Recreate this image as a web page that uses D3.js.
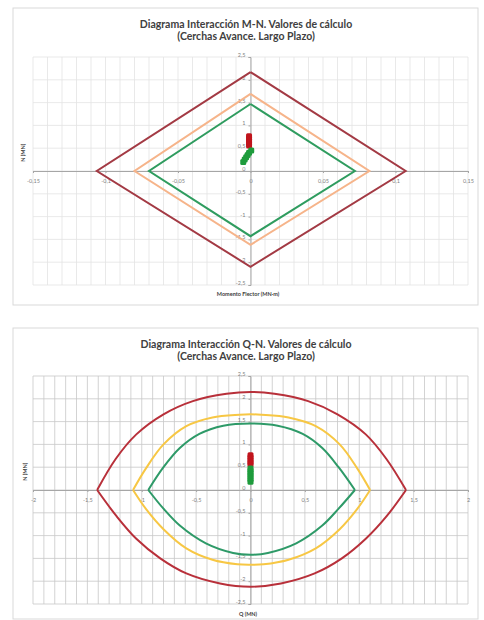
<!DOCTYPE html>
<html>
<head>
<meta charset="utf-8">
<script src="https://cdn.jsdelivr.net/npm/d3@7"></script>
<style>
  body { margin: 0; background: #fff; }
  text { font-family: Lato, "Open Sans", sans-serif; }
</style>
</head>
<body>
<div id="chart"></div>
<script>
// ---- data: M-N diagram (Momento flector MN·m, axil MN)
const mnTitle = ["Diagrama Interacción M-N. Valores de cálculo", "(Cerchas Avance. Largo Plazo)"];
const mnXLabel = "Momento Flector (MN·m)";
const mnYLabel = "N (MN)";
const mnXTicks = [-0.15, -0.1, -0.05, 0, 0.05, 0.1, 0.15];
const mnXTickLabels = ["-0,15", "-0,1", "-0,05", "0", "0,05", "0,1", "0,15"];
const mnRed    = [[0, 2.17], [0.107, 0], [0, -2.10], [-0.106, 0], [0, 2.17]];
const mnOrange = [[0, 1.69], [0.082, 0], [0, -1.62], [-0.080, 0], [0, 1.69]];
const mnGreen  = [[0, 1.47], [0.072, 0], [0, -1.43], [-0.070, 0], [0, 1.47]];
const mnRedPts   = [[-0.001, 0.56], [-0.001, 0.61], [-0.001, 0.66], [-0.001, 0.71], [-0.001, 0.76]];
const mnGreenPts = [[-0.005, 0.20], [-0.004, 0.25], [-0.003, 0.30], [-0.002, 0.35], [-0.001, 0.40], [0.0005, 0.45]];

// ---- data: Q-N diagram (cortante MN, axil MN)
const qnTitle = ["Diagrama Interacción Q-N. Valores de cálculo", "(Cerchas Avance. Largo Plazo)"];
const qnXLabel = "Q (MN)";
const qnYLabel = "N (MN)";
const qnXTicks = [-2, -1.5, -1, -0.5, 0, 0.5, 1, 1.5, 2];
const qnXTickLabels = ["-2", "-1,5", "-1", "-0,5", "0", "0,5", "1", "1,5", "2"];
const qnRedTop = [[-1.41, 0], [-1.24, 0.68], [-1.05, 1.22], [-0.80, 1.66], [-0.53, 1.95], [-0.22, 2.11], [0, 2.15],
                  [0.22, 2.11], [0.53, 1.95], [0.80, 1.66], [1.06, 1.22], [1.25, 0.68], [1.43, 0]];
const qnRedBot = [[-1.41, 0], [-1.23, -0.58], [-1.05, -1.07], [-0.83, -1.50], [-0.59, -1.83], [-0.28, -2.05], [0, -2.12],
                  [0.28, -2.05], [0.59, -1.83], [0.84, -1.50], [1.06, -1.07], [1.25, -0.58], [1.43, 0]];
const qnYellowTop = [[-1.08, 0], [-0.96, 0.48], [-0.80, 1.00], [-0.59, 1.40], [-0.35, 1.59], [-0.10, 1.65], [0, 1.66],
                     [0.10, 1.65], [0.35, 1.59], [0.60, 1.40], [0.82, 1.00], [0.98, 0.48], [1.10, 0]];
const qnYellowBot = [[-1.08, 0], [-0.96, -0.42], [-0.80, -0.86], [-0.59, -1.28], [-0.35, -1.53], [-0.12, -1.63], [0, -1.64],
                     [0.12, -1.63], [0.35, -1.53], [0.60, -1.28], [0.82, -0.86], [0.98, -0.42], [1.10, 0]];
const qnGreenTop = [[-0.94, 0], [-0.80, 0.50], [-0.65, 0.92], [-0.47, 1.23], [-0.25, 1.41], [0, 1.46],
                    [0.25, 1.41], [0.48, 1.23], [0.66, 0.92], [0.81, 0.50], [0.96, 0]];
const qnGreenBot = [[-0.94, 0], [-0.80, -0.41], [-0.65, -0.78], [-0.41, -1.17], [-0.16, -1.38], [0, -1.42],
                    [0.16, -1.38], [0.42, -1.17], [0.66, -0.78], [0.81, -0.41], [0.96, 0]];
const qnRedPts   = [[0, 0.56], [0, 0.61], [0, 0.66], [0, 0.71], [0, 0.76]];
const qnGreenPts = [[0, 0.18], [0, 0.23], [0, 0.28], [0, 0.33], [0, 0.38], [0, 0.43], [0, 0.47]];

// shared N axis
const nTicks = [-2.5, -2, -1.5, -1, -0.5, 0, 0.5, 1, 1.5, 2, 2.5];
const nTickLabels = ["-2,5", "-2", "-1,5", "-1", "-0,5", "0", "0,5", "1", "1,5", "2", "2,5"];

const svg = d3.select("#chart")
  .append("svg")
  .attr("width", 484)
  .attr("height", 620);

function drawPanel(p) {
  const g = svg.append("g");

  // chart frame
  g.append("rect")
    .attr("x", p.box[0]).attr("y", p.box[1])
    .attr("width", p.box[2]).attr("height", p.box[3])
    .attr("fill", "#fff")
    .attr("stroke", "#d9d9d9");

  const x = d3.scaleLinear().domain(p.xDomain).range([33, 468]);
  const y = d3.scaleLinear().domain([-2.5, 2.5]).range([p.bottom, p.top]);

  // vertical gridlines
  g.append("g")
    .selectAll("line")
    .data(d3.range(p.xDomain[0], p.xDomain[1] + p.xStep / 2, p.xStep))
    .enter().append("line")
      .attr("x1", d => x(d)).attr("x2", d => x(d))
      .attr("y1", p.top).attr("y2", p.bottom)
      .attr("stroke", p.grid).attr("stroke-width", 0.8);

  // horizontal gridlines
  g.append("g")
    .selectAll("line")
    .data(nTicks)
    .enter().append("line")
      .attr("x1", x.range()[0]).attr("x2", x.range()[1])
      .attr("y1", d => y(d)).attr("y2", d => y(d))
      .attr("stroke", p.grid).attr("stroke-width", 0.8);

  // axes through the origin
  const xi = d3.scaleOrdinal().domain(p.xTicks).range(p.xTickLabels);
  const yi = d3.scaleOrdinal().domain(nTicks).range(nTickLabels);
  const ax = g.append("g")
    .attr("transform", `translate(0,${y(0)})`)
    .call(d3.axisBottom(x).tickValues(p.xTicks).tickSize(2).tickPadding(6).tickFormat(d => xi(d)));
  const ay = g.append("g")
    .attr("transform", `translate(${x(0)},0)`)
    .call(d3.axisLeft(y).tickValues(nTicks).tickSize(2).tickPadding(3).tickFormat(d => yi(d)));
  [ax, ay].forEach(a => {
    a.select(".domain").attr("stroke", "#a6a6a6");
    a.selectAll(".tick line").attr("stroke", "#a6a6a6");
    a.selectAll(".tick text").attr("fill", "#7f7f7f").style("font-size", "5.5px");
  });
  ay.selectAll(".tick text").attr("dy", "-0.1em");

  // interaction curves
  const line = d3.line()
    .x(d => x(d[0]))
    .y(d => y(d[1]))
    .curve(p.curve);
  p.series.forEach(s => {
    g.append("path")
      .datum(s.data)
      .attr("fill", "none")
      .attr("stroke", s.color)
      .attr("stroke-width", 2)
      .attr("stroke-linejoin", "miter")
      .attr("d", line);
  });

  // load points
  p.points.forEach(s => {
    g.append("g")
      .selectAll("rect")
      .data(s.data)
      .enter().append("rect")
        .attr("x", d => x(d[0]) - 3)
        .attr("y", d => y(d[1]) - 3)
        .attr("width", 6).attr("height", 6)
        .attr("rx", 1.5)
        .attr("fill", s.color);
  });

  // titles
  p.title.forEach((t, i) => {
    g.append("text")
      .attr("x", 246).attr("y", p.titleY + i * 12)
      .attr("text-anchor", "middle")
      .style("font-size", "10.5px").style("font-weight", "bold")
      .attr("fill", "#404040")
      .text(t);
  });

  g.append("text")
    .attr("x", 248).attr("y", p.xLabelY)
    .attr("text-anchor", "middle")
    .style("font-size", "5.5px").style("font-weight", "bold")
    .attr("fill", "#404040")
    .text(p.xLabel);

  g.append("text")
    .attr("transform", `translate(${p.yLabelX},${y(0.4)}) rotate(-90)`)
    .attr("text-anchor", "middle")
    .style("font-size", "5.5px").style("font-weight", "bold")
    .attr("fill", "#404040")
    .text(p.yLabel);
}

drawPanel({
  box: [13, 8, 465, 297], top: 57, bottom: 285,
  xDomain: [-0.15, 0.15], xStep: 0.01, grid: "#e3e3e3",
  xTicks: mnXTicks, xTickLabels: mnXTickLabels,
  curve: d3.curveLinear,
  series: [
    { data: mnRed, color: "#a33a44" },
    { data: mnOrange, color: "#f6b48a" },
    { data: mnGreen, color: "#2f9c5f" }
  ],
  points: [
    { data: mnRedPts, color: "#c0141c" },
    { data: mnGreenPts, color: "#1e9b3c" }
  ],
  title: mnTitle, titleY: 28,
  xLabel: mnXLabel, xLabelY: 296,
  yLabel: mnYLabel, yLabelX: 25
});

drawPanel({
  box: [13, 328, 465, 291], top: 376, bottom: 604,
  xDomain: [-2, 2], xStep: 0.1, grid: "#c8c8c8",
  xTicks: qnXTicks, xTickLabels: qnXTickLabels,
  curve: d3.curveCatmullRom,
  series: [
    { data: qnRedTop, color: "#b8303a" },
    { data: qnRedBot, color: "#b8303a" },
    { data: qnYellowTop, color: "#f7c744" },
    { data: qnYellowBot, color: "#f7c744" },
    { data: qnGreenTop, color: "#2e9a68" },
    { data: qnGreenBot, color: "#2e9a68" }
  ],
  points: [
    { data: qnRedPts, color: "#c0141c" },
    { data: qnGreenPts, color: "#1e9b3c" }
  ],
  title: qnTitle, titleY: 348,
  xLabel: qnXLabel, xLabelY: 616,
  yLabel: qnYLabel, yLabelX: 27
});
</script>
</body>
</html>
